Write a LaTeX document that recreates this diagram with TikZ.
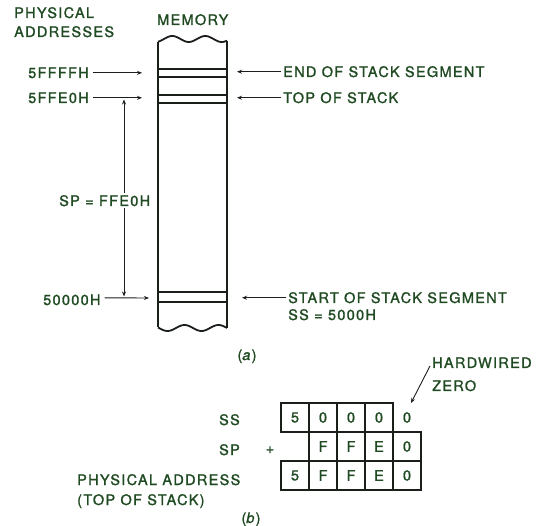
\documentclass[tikz,border=0pt]{standalone}
\usepackage{fontspec}
\setmainfont{TeX Gyre Heros}[LetterSpace=9, FakeBold=1.3]
\usetikzlibrary{arrows.meta}
\definecolor{txt}{HTML}{1F4A22}
\definecolor{ink}{HTML}{1A1F1A}
\begin{document}
\begin{tikzpicture}[x=1pt,y=-1pt,
  font=\fontsize{14.5}{16}\selectfont,
  every node/.style={text=txt, inner sep=0pt},
  lbl/.style={anchor=base west},
  lblr/.style={anchor=base east},
  tip/.style={-{Stealth[length=5pt,width=4pt]}},
  arr/.style={draw=ink, line width=0.9pt, tip},
  wall/.style={draw=ink, line width=1.8pt},
  rule/.style={draw=ink, line width=1.2pt},
  cell/.style={draw=ink, line width=1.1pt, minimum width=28pt, minimum height=29pt, text=txt},
  plain/.style={minimum width=28pt, minimum height=29pt, text=txt}]
\useasboundingbox (0,0) rectangle (546,526);

% ---------- (a) memory column ----------
\draw[wall] plot[domain=158:227,samples=50,smooth] (\x,{39-3*sin((\x-164)*10.909)});
\draw[wall] plot[domain=158:227,samples=50,smooth] (\x,{328-3*sin((\x-176)*10.588)});
\draw[wall] (158,{39-3*sin((158-164)*10.909)}) -- (158,{328-3*sin((158-176)*10.588)});
\draw[wall] (227,{39-3*sin((227-164)*10.909)}) -- (227,{328-3*sin((227-176)*10.588)});
\foreach \yy in {69,77,95,103,292,302} \draw[rule] (158,\yy) -- (227,\yy);

% headings
\node[lbl] (ph1) at (14,18) {PHYSICAL};
\node[lbl] (ph2) at (14,37) {ADDRESSES};
\node[lbl] (mem) at (157,25) {MEMORY};

% left address labels
\node[lbl] (a1) at (28,78) {5FFFFH};
\node[lbl] (a2) at (28,103) {5FFE0H};
\node[lbl] (a3) at (43,305) {50000H};
\coordinate (m1) at (142,73);
\coordinate (m2) at (142,98);
\coordinate (m3) at (149,298);
\draw[arr] ([xshift=4pt]a1.east) -- (a1.east -| m1);
\draw[arr] ([xshift=4pt]a2.east) -- (a2.east -| m2);
\draw[arr] ([xshift=4pt,yshift=2pt]a3.east) -- (m3);

% SP span
\coordinate (v1) at (124,99.5);
\coordinate (v2) at (124,296.5);
\draw[draw=ink, line width=0.9pt, {Stealth[length=5pt,width=4pt]}-{Stealth[length=5pt,width=4pt]}] (v1) -- (v2);
\node[lbl, fill=white, inner sep=2pt] (sp) at (57,206) {SP = FFE0H};

% right labels
\node[lbl] (e1) at (283,77) {END OF STACK SEGMENT};
\node[lbl] (e2) at (283,103) {TOP OF STACK};
\node[lbl] (e3) at (288,303) {START OF STACK SEGMENT};
\node[lbl] (e4) at (288,320) {SS = 5000H};
\coordinate (r1) at (237,73);
\coordinate (r2) at (237,98);
\coordinate (r3) at (242,297);
\draw[arr] ([xshift=-2pt]e1.west) -- (e1.west -| r1);
\draw[arr] ([xshift=-2pt]e2.west) -- (e2.west -| r2);
\draw[arr] ([xshift=-2pt]e3.west) -- (e3.west -| r3);

\node[anchor=base] (capa) at (247,360) {(\textit{a})};

% ---------- (b) address computation ----------
\node[lbl] (hw1) at (432,368) {HARDWIRED};
\node[lbl] (hw2) at (432,391) {ZERO};

\node[lblr] (ssl) at (240,425) {SS};
\node[lblr] (spl) at (240,455) {SP};
\node (plus) at (270,450) {+};
\node[lbl] (pa1) at (77,485) {PHYSICAL ADDRESS};
\node[lbl] (pa2) at (77,505) {(TOP OF STACK)};

% row SS
\node[cell] (s1) at (295,417.5) {5};
\node[cell] (s2) at (323,417.5) {0};
\node[cell] (s3) at (351,417.5) {0};
\node[cell] (s4) at (379,417.5) {0};
\node[plain] (s5) at (407,417.5) {0};
% row SP
\node[cell] (p2) at (323,446.5) {F};
\node[cell] (p3) at (351,446.5) {F};
\node[cell] (p4) at (379,446.5) {E};
\node[cell] (p5) at (407,446.5) {0};
% row result
\node[cell] (q1) at (295,475.5) {5};
\node[cell] (q2) at (323,475.5) {F};
\node[cell] (q3) at (351,475.5) {F};
\node[cell] (q4) at (379,475.5) {E};
\node[cell] (q5) at (407,475.5) {0};

\coordinate (h1) at (430,366);
\coordinate (h2) at (411,403);
\draw[arr] (h1) -- (h2);

\node[anchor=base] (capb) at (251,523) {(\textit{b})};
\end{tikzpicture}
\end{document}
